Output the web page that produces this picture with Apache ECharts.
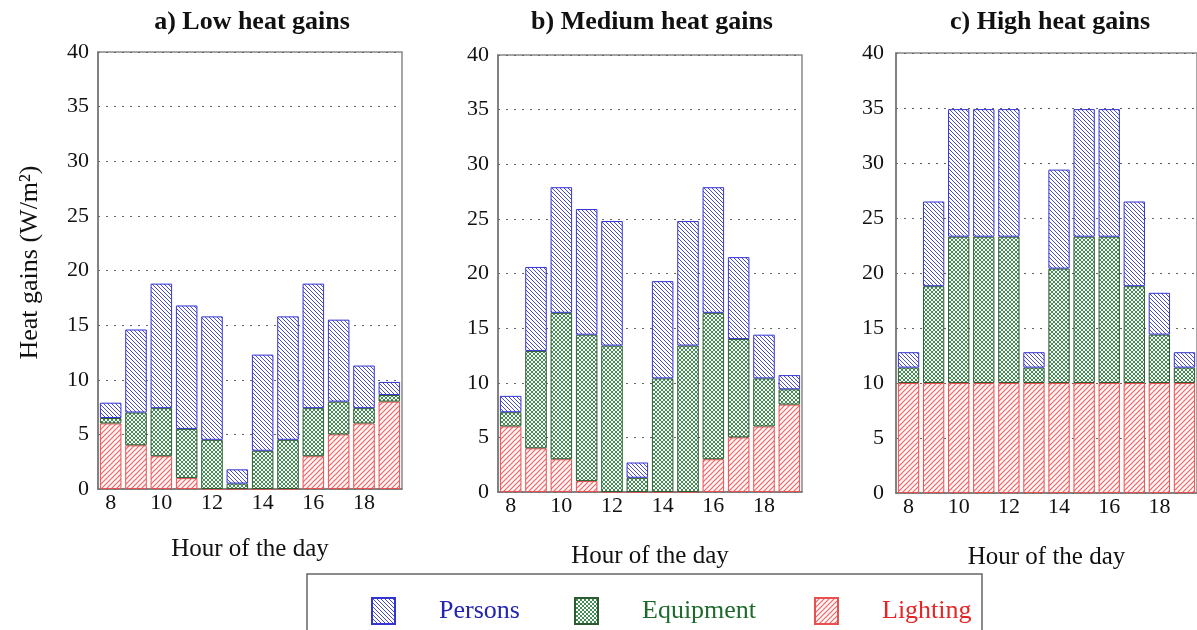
<!DOCTYPE html>
<html>
<head>
<meta charset="utf-8">
<script src="https://cdn.jsdelivr.net/npm/echarts@6/dist/echarts.min.js"></script>
<style>html,body{margin:0;padding:0;background:#fff;}#c{width:1197px;height:630px;}</style>
</head>
<body>
<div id="c"></div>
<script>
// ---- data ----
const hours = ['8','9','10','11','12','13','14','15','16','17','18','19'];
const yTicks = [0, 5, 10, 15, 20, 25, 30, 35, 40];
const panelTitles = ['a) Low heat gains', 'b) Medium heat gains', 'c) High heat gains'];
const seriesNames = ['Persons', 'Equipment', 'Lighting'];

const lowLighting  = [6, 4, 3, 1, 0, 0, 0, 0, 3, 5, 6, 8];
const lowEquipment = [0.5, 3, 4.4, 4.5, 4.5, 0.5, 3.5, 4.5, 4.4, 3, 1.4, 0.6];
const lowPersons   = [1.4, 7.6, 11.4, 11.3, 11.3, 1.3, 8.8, 11.3, 11.4, 7.5, 3.9, 1.2];

const medLighting  = [6, 4, 3, 1, 0, 0, 0, 0, 3, 5, 6, 8];
const medEquipment = [1.3, 8.9, 13.4, 13.4, 13.4, 1.3, 10.4, 13.4, 13.4, 9.0, 4.4, 1.4];
const medPersons   = [1.5, 7.7, 11.5, 11.5, 11.4, 1.4, 8.9, 11.4, 11.5, 7.5, 4.0, 1.3];

const highLighting  = [10, 10, 10, 10, 10, 10, 10, 10, 10, 10, 10, 10];
const highEquipment = [1.4, 8.8, 13.3, 13.3, 13.3, 1.4, 10.4, 13.3, 13.3, 8.8, 4.4, 1.4];
const highPersons   = [1.4, 7.7, 11.6, 11.6, 11.6, 1.4, 9.0, 11.6, 11.6, 7.7, 3.8, 1.4];

// ---- styles ----
const FONT = "'Liberation Serif', 'Times New Roman', serif";

function hatch(color, bg, dir, size, lw) {
  const c = document.createElement('canvas');
  c.width = c.height = size;
  const g = c.getContext('2d');
  g.fillStyle = bg; g.fillRect(0, 0, size, size);
  g.strokeStyle = color; g.lineWidth = lw;
  g.beginPath();
  if (dir === 'back') {
    g.moveTo(-1, -1); g.lineTo(size + 1, size + 1);
    g.moveTo(size - 1, -1); g.lineTo(size + 1, 1);
    g.moveTo(-1, size - 1); g.lineTo(1, size + 1);
  } else {
    g.moveTo(-1, size + 1); g.lineTo(size + 1, -1);
    g.moveTo(-1, 1); g.lineTo(1, -1);
    g.moveTo(size - 1, size + 1); g.lineTo(size + 1, size - 1);
  }
  g.stroke();
  return c;
}
function cross(color, size, lw) {
  const c = document.createElement('canvas');
  c.width = c.height = size;
  const g = c.getContext('2d');
  g.fillStyle = '#fff'; g.fillRect(0, 0, size, size);
  g.strokeStyle = color; g.lineWidth = lw;
  g.beginPath();
  g.moveTo(-1, -1); g.lineTo(size + 1, size + 1);
  g.moveTo(-1, size + 1); g.lineTo(size + 1, -1);
  g.stroke();
  return c;
}

const styles = {
  Persons:   { color: { image: hatch('#4a4ade', '#ffffff', 'back', 4, 1), repeat: 'repeat' }, borderColor: '#3434d0', text: '#2323b4' },
  Equipment: { color: { image: cross('#418f50', 4, 1), repeat: 'repeat' }, borderColor: '#2d5b33', text: '#1d6a2c' },
  Lighting:  { color: { image: hatch('#f26464', '#fff8f8', 'fwd', 5, 1.2), repeat: 'repeat' }, borderColor: '#e85050', text: '#e52525' }
};

const panels = [
  { Lighting: lowLighting,  Equipment: lowEquipment,  Persons: lowPersons },
  { Lighting: medLighting,  Equipment: medEquipment,  Persons: medPersons },
  { Lighting: highLighting, Equipment: highEquipment, Persons: highPersons }
];

const grids = [
  { left: 98,  top: 52, width: 304, height: 437 },
  { left: 498, top: 55, width: 304, height: 437 },
  { left: 896, top: 53, width: 304, height: 440 }
];
const nameGaps = [48, 52, 52];
const labelMargins = [9, 9, 12];
const titleX = [252, 652, 1050];

const option = {
  animation: false,
  backgroundColor: '#fff',
  grid: grids.map(g => Object.assign({ show: true, borderColor: '#888', borderWidth: 1.5, backgroundColor: 'transparent' }, g)),
  xAxis: grids.map((g, i) => ({
    type: 'category', gridIndex: i, data: hours,
    name: 'Hour of the day', nameLocation: 'middle', nameGap: nameGaps[i],
    nameTextStyle: { fontFamily: FONT, fontSize: 25, color: '#111' },
    axisLine: { lineStyle: { color: '#777', width: 1.5 } },
    axisTick: { show: false },
    axisLabel: { interval: 1, margin: 3, fontFamily: FONT, fontSize: 22, color: '#111' }
  })),
  yAxis: grids.map((g, i) => ({
    type: 'value', gridIndex: i, min: yTicks[0], max: yTicks[yTicks.length - 1], interval: 5,
    name: i === 0 ? 'Heat gains (W/m\u00B2)' : '',
    nameLocation: 'middle', nameRotate: 90, nameGap: 55,
    nameTextStyle: { fontFamily: FONT, fontSize: 26, color: '#111', padding: [0, 0, 0, 16] },
    axisLine: { show: true, lineStyle: { color: '#777', width: 1.5 } },
    axisTick: { show: false },
    axisLabel: { margin: labelMargins[i], fontFamily: FONT, fontSize: 22, color: '#111', padding: [0, 0, 10, 0] },
    splitLine: { show: true, lineStyle: { color: '#666', type: [2, 6], width: 1 } }
  })),
  legend: seriesNames.map((n, k) => ({
    data: [n],
    left: [366, 569, 809][k], top: 592,
    icon: 'rect',
    itemWidth: 23, itemHeight: 26, selectedMode: false,
    formatter: '{t|{name}}',
    textStyle: { color: styles[n].text, fontFamily: FONT, fontSize: 26,
      rich: { t: { padding: [0, 0, 0, 39], color: styles[n].text, fontFamily: FONT, fontSize: 26 } } }
  })),
  graphic: [
    { type: 'rect', shape: { x: 307, y: 574, width: 675, height: 80 }, style: { fill: 'none', stroke: '#666', lineWidth: 1.5 } }
  ].concat(panelTitles.map((t, i) => ({
    type: 'text', x: titleX[i], y: 9,
    style: { text: t, fill: '#111', font: 'bold 26px ' + FONT, textAlign: 'center', textVerticalAlign: 'top' }
  }))),
  series: []
};

panels.forEach((p, i) => {
  ['Lighting', 'Equipment', 'Persons'].forEach(n => {
    option.series.push({
      name: n, type: 'bar', stack: 'p' + i, xAxisIndex: i, yAxisIndex: i,
      data: p[n], barCategoryGap: '15%',
      itemStyle: { color: styles[n].color, borderColor: styles[n].borderColor, borderWidth: 1 }
    });
  });
});

const chart = echarts.init(document.getElementById('c'), null, { renderer: 'canvas' });
chart.setOption(option);
</script>
</body>
</html>
